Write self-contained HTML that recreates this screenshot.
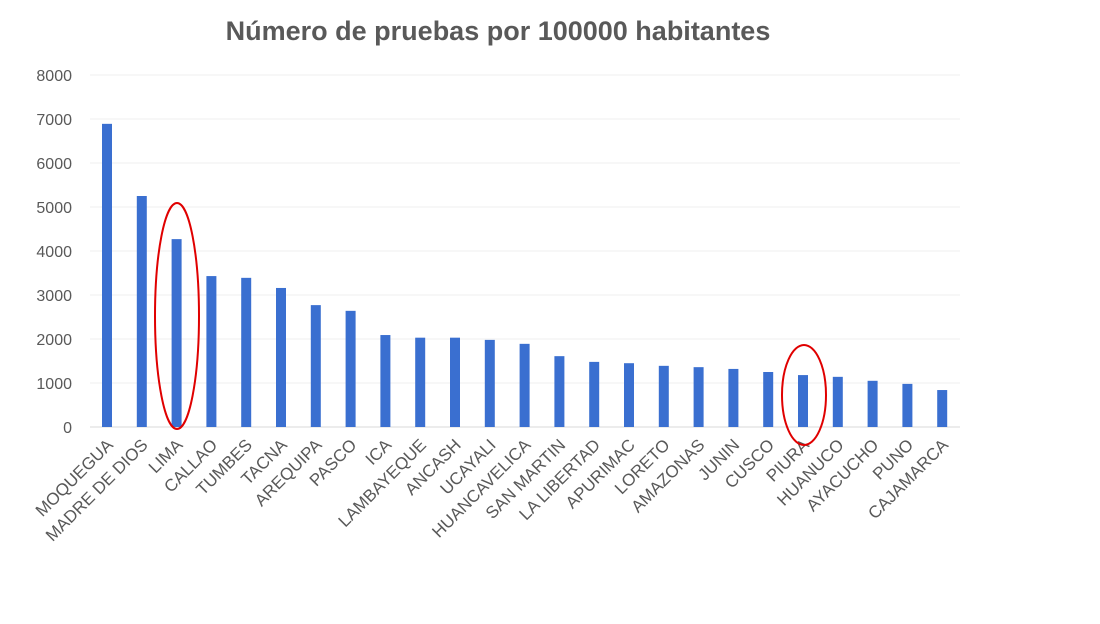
<!DOCTYPE html>
<html><head><meta charset="utf-8"><style>
body{margin:0;background:#fff;width:1100px;height:619px;overflow:hidden;font-family:"Liberation Sans",Arial,sans-serif}
</style></head><body>
<svg id="chart" width="1100" height="619" xmlns="http://www.w3.org/2000/svg">
<text x="498" y="40" text-anchor="middle" font-size="27" font-weight="bold" fill="#595959">Número de pruebas por 100000 habitantes</text>
<g id="grid"></g><g id="bars"></g><g id="labels"></g>
<ellipse cx="177" cy="316" rx="22" ry="113" fill="none" stroke="#e00000" stroke-width="2"/>
<ellipse cx="804" cy="395" rx="22" ry="50" fill="none" stroke="#e00000" stroke-width="2"/>
</svg>
<script>
const categories=["MOQUEGUA","MADRE DE DIOS","LIMA","CALLAO","TUMBES","TACNA","AREQUIPA","PASCO","ICA","LAMBAYEQUE","ANCASH","UCAYALI","HUANCAVELICA","SAN MARTIN","LA LIBERTAD","APURIMAC","LORETO","AMAZONAS","JUNIN","CUSCO","PIURA","HUANUCO","AYACUCHO","PUNO","CAJAMARCA"];
const values=[6890,5250,4270,3430,3390,3160,2770,2640,2090,2030,2030,1980,1890,1610,1480,1450,1390,1360,1320,1250,1180,1140,1050,980,840];
const ticks=[0,1000,2000,3000,4000,5000,6000,7000,8000];
const NS="http://www.w3.org/2000/svg";
const y=v=>427-v*0.044;
const x=i=>107+i*34.8;
const g=document.getElementById('grid'),b=document.getElementById('bars'),l=document.getElementById('labels');
ticks.forEach(t=>{
 const ln=document.createElementNS(NS,'line');
 
 
 ln.setAttribute('x1',90);ln.setAttribute('x2',960);ln.setAttribute('y1',y(t));ln.setAttribute('y2',y(t));
 ln.setAttribute('stroke',t===0?'#d9d9d9':'#efefef');ln.setAttribute('stroke-width',1);g.appendChild(ln);
 const tx=document.createElementNS(NS,'text');
 
 
 tx.setAttribute('x',72);tx.setAttribute('y',y(t)+6);tx.setAttribute('text-anchor','end');
 tx.setAttribute('font-size',16);tx.setAttribute('fill','#595959');tx.textContent=t;g.appendChild(tx);
});
categories.forEach((c,i)=>{
 const r=document.createElementNS(NS,'rect');
 
 
 r.setAttribute('x',x(i)-5);r.setAttribute('width',10);r.setAttribute('y',y(values[i]));r.setAttribute('height',y(0)-y(values[i]));
 r.setAttribute('fill','#3a6fd0');b.appendChild(r);
 const t=document.createElementNS(NS,'text');
 
 
 t.setAttribute('text-anchor','end');t.setAttribute('font-size',17);t.setAttribute('fill','#595959');
 t.setAttribute('transform',`translate(${x(i)+7},446) rotate(-45)`);t.textContent=c;l.appendChild(t);
});
</script>
</body></html>
